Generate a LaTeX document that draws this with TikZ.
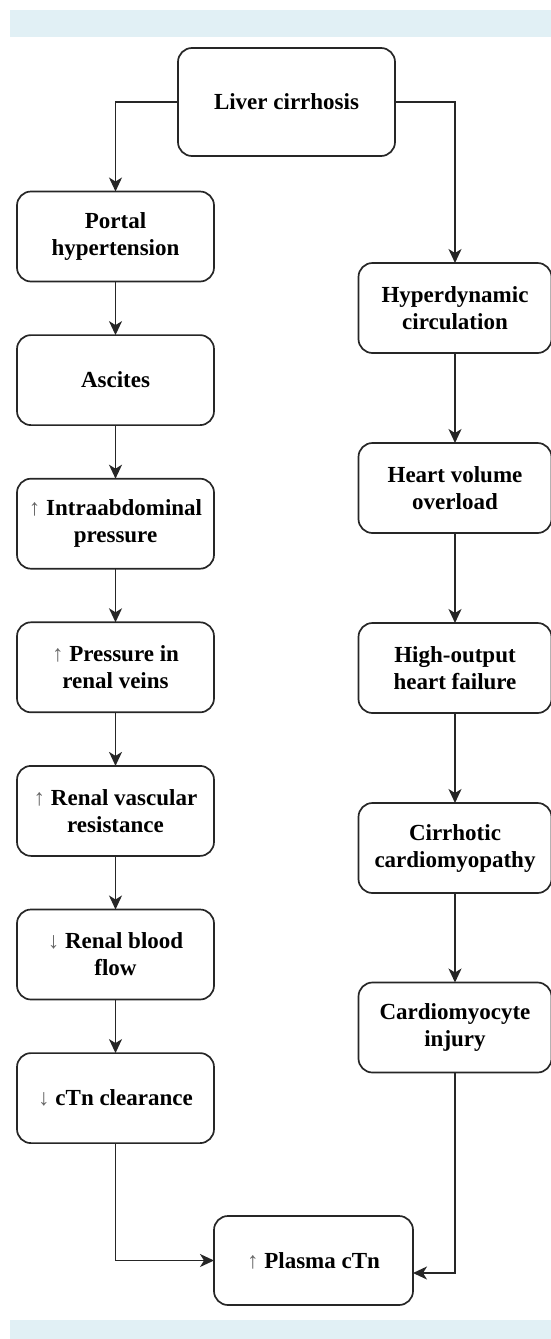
\documentclass[tikz,border=0pt]{standalone}
\usepackage{fontspec}
\setmainfont{Liberation Serif}
\usetikzlibrary{arrows.meta}
\usetikzlibrary{positioning}
\definecolor{bandblue}{RGB}{225,240,245}
\newcommand{\uparr}{{\mdseries\color{black!60}↑}}
\newcommand{\downarr}{{\mdseries\color{black!60}↓}}

\begin{document}
\begin{tikzpicture}[x=1pt, y=-1pt,
    every node/.style={draw=black!85, line width=1.7pt, rounded corners=14pt, align=center,
      inner sep=0pt, outer sep=0pt, font=\fontsize{23}{27}\selectfont\bfseries},
    leftbox/.style={minimum width=197pt, minimum height=90pt},
    rightbox/.style={minimum width=193pt, minimum height=90pt},
    link/.style={draw=black!85, line width=1.6pt, -{Stealth[length=14pt, width=13pt, inset=4pt]}}]
  \useasboundingbox (0,0) rectangle (551,1339);
  \fill[bandblue] (10,10) rectangle (551,37);
  \fill[bandblue] (10,1320) rectangle (551,1339);

  \node[minimum width=217pt, minimum height=108pt] (liver) at (286.5,102) {Liver cirrhosis};

  \node[leftbox] (portal) at (115.5,236.5) {Portal\\hypertension};
  \node[leftbox, below=53.6pt of portal] (ascites) {Ascites};
  \node[leftbox, below=53.6pt of ascites] (abdo) {\uparr\ Intraabdominal\\pressure};
  \node[leftbox, below=53.6pt of abdo] (veins) {\uparr\ Pressure in\\renal veins};
  \node[leftbox, below=53.6pt of veins] (resist) {\uparr\ Renal vascular\\resistance};
  \node[leftbox, below=53.6pt of resist] (flow) {\downarr\ Renal blood\\flow};
  \node[leftbox, below=53.6pt of flow] (clear) {\downarr\ cTn clearance};

  \node[rightbox] (hyper) at (455,308) {Hyperdynamic\\circulation};
  \node[rightbox, below=90pt of hyper] (volume) {Heart volume\\overload};
  \node[rightbox, below=90pt of volume] (failure) {High-output\\heart failure};
  \node[rightbox, below=90pt of failure] (cardio) {Cirrhotic\\cardiomyopathy};
  \node[rightbox, below=89.5pt of cardio] (injury) {Cardiomyocyte\\injury};

  \node[minimum width=199pt, minimum height=89pt] (plasma) at (313.5,1260.5) {\uparr\ Plasma cTn};

  \draw[link] (liver.west) -| (portal.north);
  \draw[link] (liver.east) -| (hyper.north);
  \foreach \a/\b in {portal/ascites, ascites/abdo, abdo/veins, veins/resist, resist/flow, flow/clear,
      hyper/volume, volume/failure, failure/cardio, cardio/injury}
    \draw[link] (\a) -- (\b);
  \draw[link] (clear.south) |- (plasma.west);
  \draw[link] (injury.south) |- ([yshift=-12.5pt]plasma.east);
\end{tikzpicture}
\end{document}
